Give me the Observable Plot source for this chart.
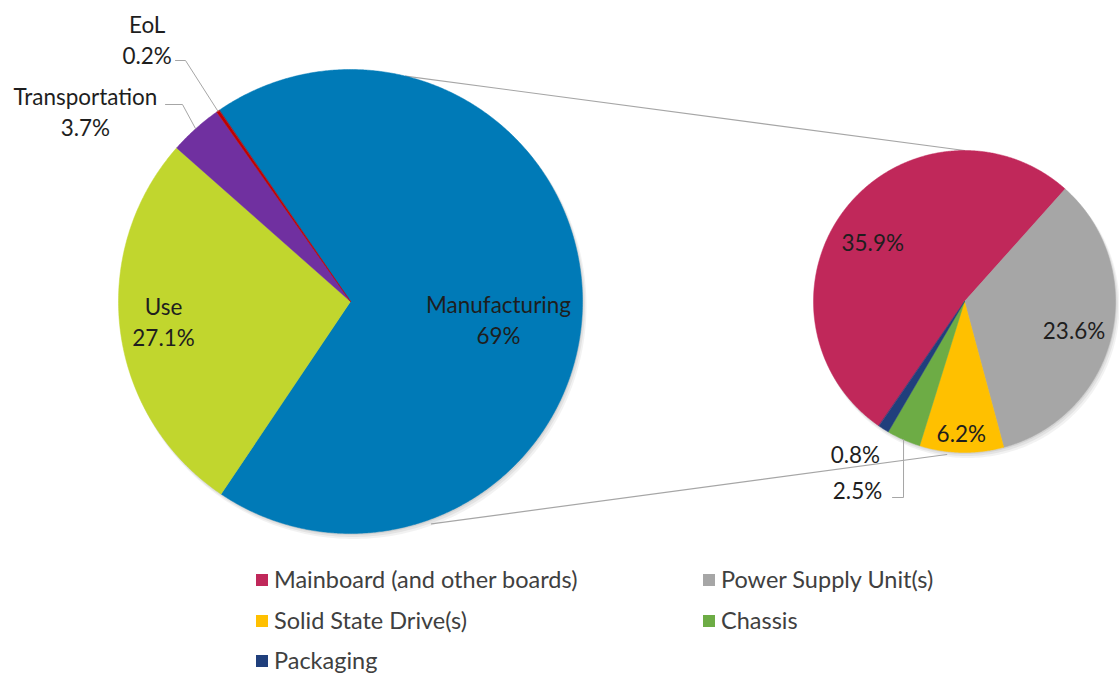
<!DOCTYPE html>
<html>
<head>
<meta charset="utf-8">
<script src="https://cdn.jsdelivr.net/npm/d3@7"></script>
<script src="https://cdn.jsdelivr.net/npm/@observablehq/plot@0.6"></script>
<style>
  html, body { margin: 0; padding: 0; background: #ffffff; }
  #wrap { position: relative; width: 1119px; height: 675px; overflow: hidden; font-family: Lato, "Open Sans", sans-serif; }
  #legend { position: relative; width: 1119px; height: 115px; }
  .li { position: absolute; display: flex; align-items: center; color: #404040; white-space: nowrap; line-height: 1; }
  .sw { width: 12px; height: 12px; margin-right: 6px; flex: none; }
</style>
</head>
<body>
<div id="wrap"><div id="chart"></div><div id="legend"></div></div>
<script>
// ---------------- DATA ----------------
const outerNames  = ["Manufacturing", "Use", "Transportation", "EoL"];
const outerValues = [69, 27.1, 3.7, 0.2];
const outerLabels = ["Manufacturing\n69%", "Use\n27.1%", "Transportation\n3.7%", "EoL\n0.2%"];
const outerColors = ["#007AB7", "#C1D62E", "#7030A0", "#C00000"];

const innerNames  = ["Mainboard (and other boards)", "Power Supply Unit(s)", "Solid State Drive(s)", "Chassis", "Packaging"];
const innerValues = [35.9, 23.6, 6.2, 2.5, 0.8];
const innerLabels = ["35.9%", "23.6%", "6.2%", "2.5%", "0.8%"];
const innerColors = ["#C0285A", "#A6A6A6", "#FFC000", "#6DAC45", "#203F7C"];

// ---------------- LAYOUT ----------------
const W = 1119, H = 560;
const FONT = "Lato";
const rad = Math.PI / 180;
const P1 = {cx: 350, cy: 301, r: 232, start: -34.5};   // main pie
const P2 = {cx: 964, cy: 301, r: 151, start: 214.5};   // secondary pie
// label placement: [angle deg clockwise from top, radius fraction]
const outerLabelPos = [[96.4, 0.642], [264.2, 0.81], [305.7, 1.407], [322.3, 1.433]];
const innerLabelPos = [[303.3, 0.727], [104.1, 0.748], [181.4, 0.866], [209.7, 1.43], [215.8, 1.235]];
// connector lines between pies: [angle on pie1, k1, angle on pie2, k2]
const connectors = [[13.7, 1.0, 0, 1.0], [160, 1.02, 186.6, 1.02]];
// leader lines: label-side points, then end at slice edge
const leaders = [
  {pie: "outer", idx: 3, pts: [[175, 60], [185, 60]]},
  {pie: "outer", idx: 2, pts: [[165, 104], [182, 104]]},
  {pie: "inner", idx: 3, pts: [[892, 497], [903, 497]]}
];
const legendCols = [256, 703], legendRows = [20, 61, 101];
// soft shadow layers: [dx, dy, extra radius, opacity]
const shadowLayers = [[1, 1.5, 0, 0.07], [2, 3, 0.5, 0.06], [3, 4.5, 1, 0.05]];

// font fitting (Calibri-like sizes in reference)
const ctx = document.createElement("canvas").getContext("2d");
function fit(text, target) { ctx.font = `100px ${FONT}`; return 100 * target / ctx.measureText(text).width; }
const fsLabel  = fit("Transportation", 144);
const fsLegend = fit("Mainboard (and other boards)", 304);

// ---------------- GEOMETRY ----------------
function polar(P, ang, k) { return [P.cx + k * P.r * Math.sin(ang), P.cy - k * P.r * Math.cos(ang)]; }
function slices(names, values, colors, P) {
  const arcs = d3.pie().sort(null).startAngle(P.start * rad).endAngle(P.start * rad + 2 * Math.PI)(values);
  return arcs.map((a, i) => ({name: names[i], color: colors[i], a0: a.startAngle, a1: a.endAngle, mid: (a.startAngle + a.endAngle) / 2, P}));
}
function slicePoints(list) {
  const out = [];
  for (const s of list) {
    out.push({name: s.name, color: s.color, x: s.P.cx, y: s.P.cy});
    const n = Math.max(2, Math.ceil((s.a1 - s.a0) / (0.4 * rad)));
    for (let j = 0; j <= n; j++) {
      const a = s.a0 + (s.a1 - s.a0) * j / n;
      const [x, y] = polar(s.P, a, 1);
      out.push({name: s.name, color: s.color, x, y});
    }
  }
  return out;
}
function shadowPoints(P, tag) {
  const out = [];
  shadowLayers.forEach(([dx, dy, dr, op], li) => {
    for (let j = 0; j < 360; j++) {
      const a = j * rad;
      out.push({id: tag + li, op, x: P.cx + dx + (P.r + dr) * Math.sin(a), y: P.cy + dy - (P.r + dr) * Math.cos(a)});
    }
  });
  return out;
}
const outer = slices(outerNames, outerValues, outerColors, P1);
const inner = slices(innerNames, innerValues, innerColors, P2);
const outerPts = slicePoints(outer);
const innerPts = slicePoints(inner);
const shadowPts = [...shadowPoints(P1, "a"), ...shadowPoints(P2, "b")];

const connectorPts = connectors.flatMap((c, i) => {
  const [x1, y1] = polar(P1, c[0] * rad, c[1]);
  const [x2, y2] = polar(P2, c[2] * rad, c[3]);
  return [{id: i, x: x1, y: y1}, {id: i, x: x2, y: y2}];
});

const leaderPts = leaders.flatMap((l, i) => {
  const s = (l.pie === "outer" ? outer : inner)[l.idx];
  const end = polar(s.P, s.mid, 1);
  return [...l.pts, end].map(([x, y]) => ({id: i, x, y}));
});

const labelRows = [
  ...outerLabels.map((t, i) => { const [x, y] = polar(P1, outerLabelPos[i][0] * rad, outerLabelPos[i][1]); return {t, x, y}; }),
  ...innerLabels.map((t, i) => { const [x, y] = polar(P2, innerLabelPos[i][0] * rad, innerLabelPos[i][1]); return {t, x, y}; })
];

// ---------------- PLOT ----------------
const chart = Plot.plot({
  width: W, height: H, margin: 0,
  x: {domain: [0, W], range: [0, W], axis: null},
  y: {domain: [0, H], range: [0, H], axis: null},
  color: {type: "identity"},
  style: {fontFamily: FONT, background: "transparent", overflow: "visible"},
  marks: [
    Plot.line(shadowPts, {x: "x", y: "y", z: "id", fill: "#000", fillOpacity: "op", stroke: null, curve: "linear-closed"}),
    Plot.line(connectorPts, {x: "x", y: "y", z: "id", stroke: "#a6a6a6", strokeWidth: 1.2}),
    Plot.line(outerPts, {x: "x", y: "y", z: "name", fill: "color", stroke: "color", strokeWidth: 0.5, curve: "linear-closed"}),
    Plot.line(innerPts, {x: "x", y: "y", z: "name", fill: "color", stroke: "color", strokeWidth: 0.5, curve: "linear-closed"}),
    Plot.line(leaderPts, {x: "x", y: "y", z: "id", stroke: "#a6a6a6", strokeWidth: 1}),
    Plot.text(labelRows, {x: "x", y: "y", text: "t", fill: "#1e1e1e", fontSize: fsLabel, lineHeight: 31 / fsLabel, lineAnchor: "middle"})
  ]
});
document.getElementById("chart").appendChild(chart);

// ---------------- LEGEND ----------------
const legend = document.getElementById("legend");
innerNames.forEach((name, i) => {
  const el = document.createElement("div");
  el.className = "li";
  el.style.left = legendCols[i % 2] + "px";
  el.style.top = (legendRows[Math.floor(i / 2)] - fsLegend * 0.6) + "px";
  el.style.height = (fsLegend * 1.2) + "px";
  el.style.fontSize = fsLegend + "px";
  el.style.fontFamily = FONT;
  const sw = document.createElement("span");
  sw.className = "sw";
  sw.style.background = innerColors[i];
  const tx = document.createElement("span");
  tx.textContent = name;
  el.appendChild(sw); el.appendChild(tx);
  legend.appendChild(el);
});
</script>
</body>
</html>
